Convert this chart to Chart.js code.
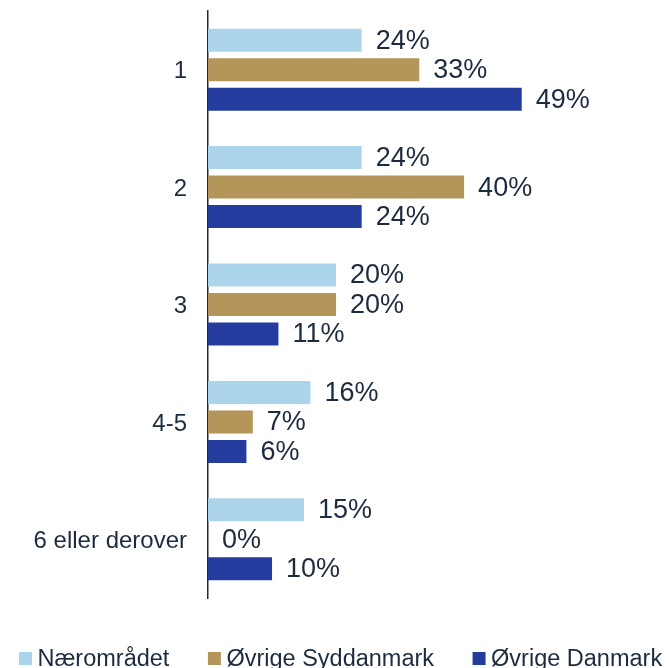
<!DOCTYPE html>
<html>
<head>
<meta charset="utf-8">
<script src="https://cdn.jsdelivr.net/npm/chart.js@4"></script>
<style>
  html, body { margin: 0; padding: 0; background: #ffffff; overflow: hidden; }
  #wrap { width: 669px; height: 668px; position: relative; }
</style>
</head>
<body>
<div id="wrap"><canvas id="c"></canvas></div>
<script>
const categories = ["1", "2", "3", "4-5", "6 eller derover"];
const seriesNames = ["Nærområdet", "Øvrige Syddanmark", "Øvrige Danmark"];
const naeromraadet = [24, 24, 20, 16, 15];
const oevrigeSyddanmark = [33, 40, 20, 7, 0];
const oevrigeDanmark = [49, 24, 11, 6, 10];
const seriesColors = ["#acd5ec", "#b4965b", "#233c9e"];
const textColor = "#1c2b3e";
const FONT = "Liberation Sans, Arial, sans-serif";

const valueLabels = {
  id: "valueLabels",
  afterDatasetsDraw(chart) {
    const ctx = chart.ctx;
    ctx.save();
    ctx.font = "27px " + FONT;
    ctx.fillStyle = textColor;
    ctx.textAlign = "left";
    ctx.textBaseline = "middle";
    chart.data.datasets.forEach((ds, di) => {
      const meta = chart.getDatasetMeta(di);
      meta.data.forEach((bar, i) => {
        ctx.fillText(ds.data[i] + "%", bar.x + 14, bar.y + 1);
      });
    });
    ctx.restore();
  }
};

const bottomLegend = {
  id: "bottomLegend",
  afterDraw(chart) {
    const ctx = chart.ctx;
    ctx.save();
    ctx.font = "23.5px " + FONT;
    ctx.textBaseline = "alphabetic";
    ctx.textAlign = "left";
    let x = 19;
    const baseline = 666;
    chart.data.datasets.forEach((ds) => {
      ctx.fillStyle = ds.backgroundColor;
      ctx.fillRect(x, 652, 13, 13);
      x += 13 + 5.5;
      ctx.fillStyle = textColor;
      ctx.fillText(ds.label, x, baseline);
      x += ctx.measureText(ds.label).width + 38.5;
    });
    ctx.restore();
  }
};

const seriesData = [naeromraadet, oevrigeSyddanmark, oevrigeDanmark];

new Chart(document.getElementById("c"), {
  type: "bar",
  data: {
    labels: categories,
    datasets: seriesNames.map((name, k) => ({
      label: name,
      data: seriesData[k],
      backgroundColor: seriesColors[k],
      borderWidth: 0,
      barPercentage: 0.78,
      categoryPercentage: 0.754
    }))
  },
  options: {
    indexAxis: "y",
    responsive: true,
    maintainAspectRatio: false,
    animation: false,
    layout: { padding: { top: 11, bottom: 70, left: 0, right: 0 } },
    plugins: {
      legend: { display: false },
      tooltip: { enabled: false }
    },
    scales: {
      x: {
        display: false,
        min: 0,
        max: 72
      },
      y: {
        afterFit(scale) {
          scale.width = 208;
          scale.paddingTop = 0;
          scale.paddingBottom = 0;
        },
        grid: { display: false, drawTicks: false },
        border: { display: true, color: textColor, width: 1.5 },
        ticks: {
          color: textColor,
          font: { family: FONT, size: 24 },
          padding: 21,
          labelOffset: 2
        }
      }
    }
  },
  plugins: [valueLabels, bottomLegend]
});
</script>
</body>
</html>
